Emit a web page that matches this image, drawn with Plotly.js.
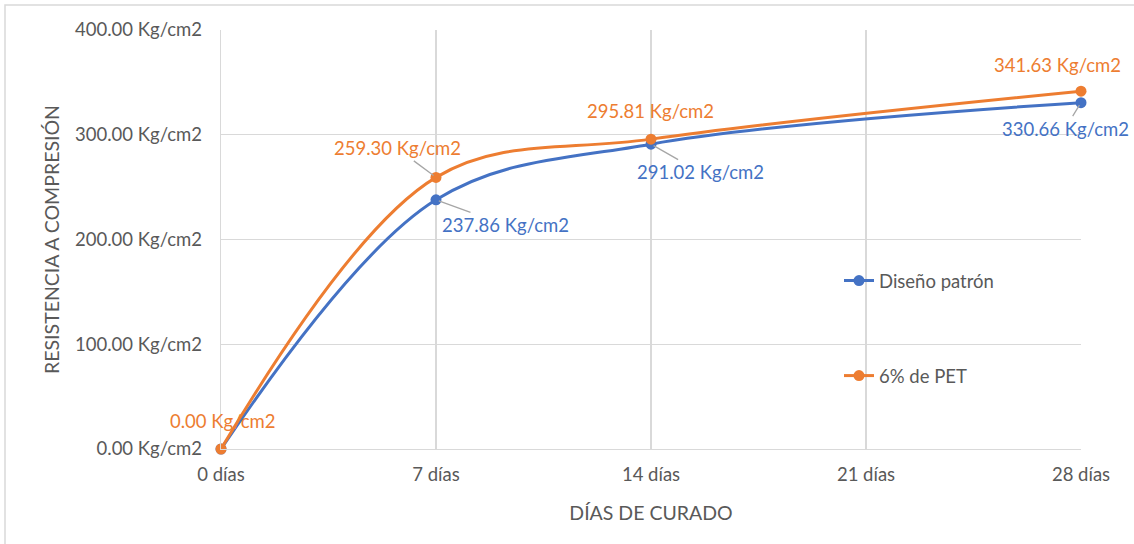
<!DOCTYPE html>
<html>
<head>
<meta charset="utf-8">
<script src="https://cdn.plot.ly/plotly-3.0.1.min.js"></script>
<style>html,body{margin:0;padding:0;background:#fff}#chart{width:1134px;height:544px}</style>
</head>
<body>
<div id="chart"></div>
<script>
// ---- data ----
const dayValues = [0, 7, 14, 21, 28];
const dayLabels = ["0 días", "7 días", "14 días", "21 días", "28 días"];
const seriesDays = [0, 7, 14, 28];
const patronName = "Diseño patrón";
const patronValues = [0.00, 237.86, 291.02, 330.66];
const petName = "6% de PET";
const petValues = [0.00, 259.30, 295.81, 341.63];
const yTickValues = [0, 100, 200, 300, 400];
const yUnit = " Kg/cm2";
const xTitle = "DÍAS DE CURADO";
const yTitle = "RESISTENCIA A COMPRESIÓN";

const BLUE = "#4472C4", ORANGE = "#ED7D31", GRID = "#d9d9d9", TXT = "#595959";
const FONT = "Lato, 'Liberation Sans', sans-serif";
const FS = 18.5, TFS = 19.5;

const fmt = v => v.toFixed(2) + yUnit;

// label placement (pixel offsets from point), leader line flag
const patronLabelPos = [null, [69, 25, true], [49, 28, true], [-16, 26, true]];
const petLabelPos = [[1, -28, false], [-39, -29, true], [-1, -28, false], [-24, -26, false]];

function labels(vals, pos, color) {
  const out = [];
  vals.forEach((v, i) => {
    const p = pos[i];
    if (!p) return;
    out.push({
      x: seriesDays[i], y: v, xref: "x", yref: "y",
      text: fmt(v), showarrow: true, arrowhead: 0, arrowwidth: 1.3,
      arrowcolor: p[2] ? "#a6a6a6" : "rgba(0,0,0,0)",
      ax: p[0], ay: p[1], standoff: 3,
      font: {family: FONT, size: FS, color: color}
    });
  });
  return out;
}

const traces = [
  {x: seriesDays, y: patronValues, name: patronName, type: "scatter", mode: "lines+markers",
   line: {color: BLUE, width: 3, shape: "spline", smoothing: 1},
   marker: {color: BLUE, size: 11}, legendgroup: "a", cliponaxis: false},
  {x: seriesDays, y: petValues, name: petName, type: "scatter", mode: "lines+markers",
   line: {color: ORANGE, width: 3, shape: "spline", smoothing: 1},
   marker: {color: ORANGE, size: 11}, legendgroup: "b", cliponaxis: false}
];

const L = 221, R = 1081, T = 30, B = 449, W = 1134, H = 544;
const pw = R - L, ph = B - T;

const layout = {
  width: W, height: H,
  margin: {l: L, r: W - R, t: T, b: H - B},
  paper_bgcolor: "#fff", plot_bgcolor: "#fff",
  font: {family: FONT, size: FS, color: TXT},
  showlegend: true,
  legend: {x: (839 - L) / pw, y: (B - 262) / ph, xanchor: "left", yanchor: "top",
           traceorder: "grouped", tracegroupgap: 68, bgcolor: "rgba(0,0,0,0)",
           font: {family: FONT, size: FS, color: TXT}},
  xaxis: {
    range: [0, 28], tickvals: dayValues, ticktext: dayLabels,
    showgrid: true, gridcolor: GRID, gridwidth: 1.3,
    showline: true, linecolor: GRID, linewidth: 1.3,
    zeroline: false, ticks: "", ticklen: 0, ticklabelstandoff: 8,
    tickfont: {family: FONT, size: FS, color: TXT},
    title: {text: xTitle, font: {family: FONT, size: TFS, color: TXT}, standoff: 22}
  },
  yaxis: {
    range: [0, 400], tickvals: yTickValues, ticktext: yTickValues.map(fmt),
    showgrid: true, gridcolor: GRID, gridwidth: 1.3,
    showline: true, linecolor: GRID, linewidth: 1.3,
    zeroline: false, ticks: "", ticklabelstandoff: 14,
    tickfont: {family: FONT, size: FS, color: TXT},
    title: {text: yTitle, font: {family: FONT, size: TFS, color: TXT}, standoff: 10}
  },
  annotations: [].concat(labels(patronValues, patronLabelPos, BLUE), labels(petValues, petLabelPos, ORANGE)),
  shapes: [{type: "rect", xref: "paper", yref: "paper",
            x0: (5 - L) / pw, x1: (1140 - L) / pw, y0: (B - 550) / ph, y1: (B - 5) / ph,
            line: {color: GRID, width: 1.5}, fillcolor: "rgba(0,0,0,0)", layer: "below"}]
};

Plotly.newPlot("chart", traces, layout, {displayModeBar: false, staticPlot: true});
</script>
</body>
</html>
